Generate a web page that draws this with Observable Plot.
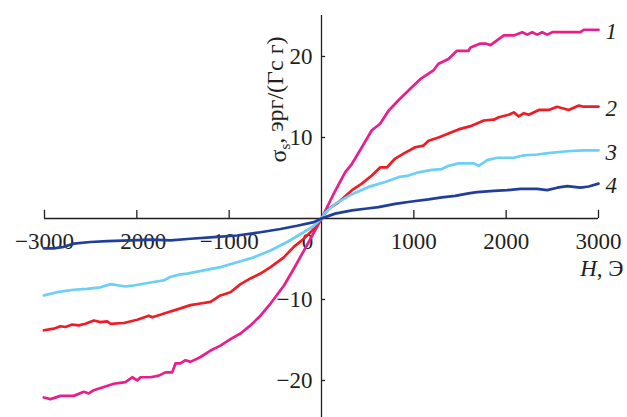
<!DOCTYPE html>
<html>
<head>
<meta charset="utf-8">
<script src="https://cdn.jsdelivr.net/npm/d3@7"></script>
<script src="https://cdn.jsdelivr.net/npm/@observablehq/plot@0.6"></script>
<style>
  body { margin: 0; background: #fff; }
</style>
</head>
<body>
<div id="chart"></div>
<script>
// Magnetization curves: [H (Oe), sigma_s (erg/(G g))]
const curve1 = [[-3007,-22.1],[-2935,-22.3],[-2827,-21.9],[-2683,-21.9],[-2574,-21.4],[-2520,-21.6],[-2466,-21.2],[-2358,-20.8],[-2250,-20.4],[-2123,-20.2],[-2050,-19.6],[-1996,-20.0],[-1960,-19.6],[-1852,-19.6],[-1762,-19.4],[-1690,-19.0],[-1617,-19.0],[-1581,-17.9],[-1527,-17.9],[-1473,-17.5],[-1419,-17.7],[-1310,-17.1],[-1202,-16.3],[-1094,-15.7],[-986,-14.9],[-877,-14.2],[-769,-13.2],[-661,-12.0],[-552,-10.5],[-408,-8.3],[-300,-6.2],[-192,-4.0],[-119,-2.5],[0,0],[130,3.0],[256,5.7],[330,6.75],[437,8.8],[545,10.9],[635,11.7],[726,13.3],[834,14.6],[978,16.2],[1069,17.2],[1213,18.3],[1267,19.1],[1375,19.7],[1466,20.7],[1505,20.7],[1592,20.7],[1614,21.1],[1722,21.6],[1776,21.6],[1830,21.4],[1975,22.6],[2083,22.6],[2174,23.0],[2228,22.7],[2282,23.0],[2336,22.7],[2390,23.0],[2444,22.7],[2499,23.0],[2805,23.0],[2841,23.3],[3000,23.3]];
const curve2 = [[-3007,-13.8],[-2899,-13.6],[-2827,-13.3],[-2773,-13.4],[-2700,-13.1],[-2629,-13.2],[-2556,-13.0],[-2466,-12.6],[-2394,-12.8],[-2321,-12.7],[-2285,-13.0],[-2141,-12.9],[-1996,-12.5],[-1870,-12.0],[-1834,-12.2],[-1780,-12.0],[-1671,-11.6],[-1527,-11.1],[-1419,-10.7],[-1310,-10.5],[-1202,-10.3],[-1094,-9.5],[-986,-9.1],[-877,-8.1],[-769,-7.4],[-661,-6.8],[-552,-6.0],[-408,-4.8],[-300,-3.5],[-192,-2.5],[-83,-1.3],[0,0],[76,1.2],[184,2.0],[330,3.5],[437,4.3],[545,5.3],[635,6.3],[708,6.3],[798,7.4],[888,8.0],[1015,8.8],[1105,9.0],[1159,9.6],[1267,10.0],[1375,10.5],[1484,11.0],[1614,11.4],[1758,12.1],[1866,12.2],[1920,12.5],[2029,12.8],[2083,13.1],[2137,12.6],[2191,13.0],[2245,12.8],[2354,13.4],[2462,13.4],[2552,13.8],[2678,13.4],[2787,13.95],[2841,13.8],[3000,13.8]];
const curve3 = [[-3007,-9.5],[-2863,-9.1],[-2683,-8.8],[-2538,-8.7],[-2394,-8.5],[-2285,-8.1],[-2123,-8.4],[-2050,-8.3],[-1852,-7.9],[-1708,-7.65],[-1635,-7.2],[-1527,-6.9],[-1455,-6.8],[-1275,-6.4],[-1094,-6.0],[-913,-5.4],[-733,-4.8],[-552,-3.95],[-372,-2.9],[-192,-1.7],[-83,-0.9],[0,0],[40,0.7],[148,1.8],[330,3.0],[509,3.9],[690,4.5],[834,5.1],[942,5.3],[1051,5.7],[1195,6.0],[1303,6.1],[1375,6.5],[1484,6.8],[1650,6.8],[1704,6.5],[1795,7.2],[1903,7.5],[2083,7.5],[2191,7.8],[2336,7.9],[2480,8.1],[2661,8.3],[2841,8.4],[3000,8.4]];
const curve4 = [[-3007,-3.7],[-2899,-3.7],[-2791,-3.5],[-2683,-3.1],[-2502,-2.9],[-2321,-2.8],[-2068,-2.7],[-1852,-2.6],[-1635,-2.7],[-1419,-2.5],[-1166,-2.3],[-913,-2.1],[-661,-1.7],[-444,-1.3],[-263,-0.9],[-83,-0.45],[0,0],[148,0.6],[330,1.0],[473,1.2],[617,1.4],[798,1.8],[978,2.1],[1159,2.35],[1303,2.6],[1448,2.8],[1592,3.1],[1686,3.25],[1866,3.4],[2011,3.5],[2155,3.65],[2336,3.65],[2444,3.5],[2553,3.8],[2661,4.0],[2805,3.8],[2895,3.95],[3000,4.3]];

const seriesNames = ["1", "2", "3", "4"];
const seriesColors = ["#e91e8c", "#ee1c25", "#6dcff6", "#213f99"];
const xTicks = [-3000, -2000, -1000, 0, 1000, 2000, 3000];
const yTicks = [-20, -10, 10, 20];
const yLabel = "σs, эрг/(Гс г)";
const xLabel = "H, Э";

const curves = [curve1, curve2, curve3, curve4];
const rows = curves.flatMap((c, k) => c.map(([h, s]) => ({series: seriesNames[k], h, s})));
const ends = curves.map((c, k) => ({series: seriesNames[k], h: c[c.length - 1][0], s: c[c.length - 1][1]}));
const fmt = d => d < 0 ? "−" + Math.abs(d) : String(d);
const ink = "#231f20";
const serif = "Liberation Serif, Times New Roman, serif";

const plot = Plot.plot({
  width: 627,
  height: 417,
  marginLeft: 44,
  marginRight: 29,
  marginTop: 15,
  marginBottom: 0,
  x: {domain: [-3000, 3000], axis: null},
  y: {domain: [-24.57, 25.06], axis: null},
  color: {domain: seriesNames, range: seriesColors},
  style: {background: "#fff", overflow: "visible"},
  marks: [
    Plot.ruleY([0], {x1: -3000, x2: 3000, stroke: ink, strokeWidth: 1.3}),
    Plot.ruleX([0], {stroke: ink, strokeWidth: 1.3}),
    Plot.ruleX(xTicks.filter(d => d !== 0), {x: d => d, y1: 0, y2: 1.0, stroke: ink, strokeWidth: 1.3}),
    Plot.ruleY(yTicks, {y: d => d, x1: 0, x2: 45, stroke: ink, strokeWidth: 1.3}),
    Plot.text(xTicks.filter(d => d !== 0), {x: d => d, y: 0, dy: 23, text: fmt, fill: ink, fontSize: 23}),
    Plot.text([0], {x: d => d, y: 0, dx: -14, dy: 23, text: fmt, fill: ink, fontSize: 23}),
    Plot.text(yTicks, {x: 0, y: d => d, dx: -9, textAnchor: "end", text: fmt, fill: ink, fontSize: 23}),
    Plot.line(rows, {x: "h", y: "s", z: "series", stroke: "series", strokeWidth: 2.7, strokeLinejoin: "round"}),
    Plot.text(ends, {x: "h", y: "s", text: "series", dx: 7, dy: 2, textAnchor: "start", fontStyle: "italic", fill: ink, fontSize: 23}),
    Plot.text([xLabel], {x: 3000, y: 0, dx: 25, dy: 50, textAnchor: "end", fill: ink, fontSize: 23}),
    Plot.text([yLabel], {x: 0, frameAnchor: "top", dx: -53, dy: 84, rotate: -90, fill: ink, fontSize: 24})
  ]
});
document.getElementById("chart").appendChild(plot);

// font on every text, and rich text: subscript s in sigma_s, italic H
const svg = d3.select(plot);
svg.attr("font-family", serif).style("font-family", serif);
svg.selectAll("text").attr("font-family", serif).style("font-family", serif);
svg.selectAll("text").filter(function () { return this.textContent === yLabel; }).each(function () {
  const t = d3.select(this);
  t.text(null);
  t.append("tspan").text("σ");
  t.append("tspan").attr("dy", "0.3em").attr("font-size", "15").text("s");
  t.append("tspan").attr("dy", "-0.3em").text(yLabel.slice(2));
});
svg.selectAll("text").filter(function () { return this.textContent === xLabel; }).each(function () {
  const t = d3.select(this);
  t.text(null);
  t.append("tspan").attr("font-style", "italic").text("H");
  t.append("tspan").text(xLabel.slice(1));
});
</script>
</body>
</html>
